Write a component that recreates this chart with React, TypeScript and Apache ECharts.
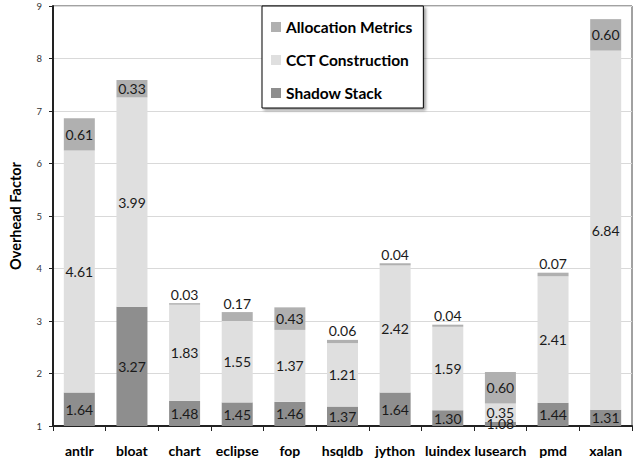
import React, { useEffect, useRef } from "react";
import * as echarts from "echarts";

const categories = ["antlr", "bloat", "chart", "eclipse", "fop", "hsqldb", "jython", "luindex", "lusearch", "pmd", "xalan"];
const shadowStack = [1.64, 3.27, 1.48, 1.45, 1.46, 1.37, 1.64, 1.30, 1.08, 1.44, 1.31];
const cctConstruction = [4.61, 3.99, 1.83, 1.55, 1.37, 1.21, 2.42, 1.59, 0.35, 2.41, 6.84];
const allocationMetrics = [0.61, 0.33, 0.03, 0.17, 0.43, 0.06, 0.04, 0.04, 0.60, 0.07, 0.60];
const yTicks = { min: 1, max: 9, interval: 1 };

const FONT = "Lato, 'Open Sans', sans-serif";

export default function App() {
  const ref = useRef<HTMLDivElement>(null);
  useEffect(() => {
    document.body.style.margin = "0";
    if (!ref.current) return;
    const chart = echarts.init(ref.current, null, { renderer: "svg" });
    const labelBase = {
      show: true,
      fontFamily: FONT,
      fontSize: 14,
      color: "#1a1a1a",
      formatter: (p: any) => Number(p.value).toFixed(2),
    };
    const mk = (vals: number[]) =>
      vals.map((v) => ({
        value: v,
        label: { position: v < 0.2 ? "top" : "inside", distance: 2 },
      }));
    chart.setOption({
      animation: false,
      textStyle: { fontFamily: FONT },
      grid: {
        left: 50,
        right: 2,
        top: 6,
        bottom: 35,
        show: true,
        borderColor: "#444",
        borderWidth: 1,
        backgroundColor: "transparent",
      },
      legend: {
        orient: "vertical",
        left: 262,
        top: 6,
        data: ["Allocation Metrics", "CCT Construction", "Shadow Stack"],
        icon: "rect",
        itemWidth: 10,
        itemHeight: 10,
        itemGap: 17,
        padding: [13, 11, 7, 9],
        backgroundColor: "#fff",
        borderColor: "#000",
        borderWidth: 1,
        shadowBlur: 3,
        shadowOffsetX: 2,
        shadowOffsetY: 2,
        shadowColor: "rgba(0,0,0,0.4)",
        textStyle: { fontFamily: FONT, fontSize: 15.5, fontWeight: "bold", color: "#000" },
      },
      xAxis: {
        type: "category",
        data: categories,
        axisLine: { show: true, lineStyle: { color: "#222", width: 2 } },
        axisTick: { show: true, alignWithLabel: false, length: 5, lineStyle: { color: "#222" } },
        axisLabel: { fontFamily: FONT, fontSize: 14, fontWeight: "bold", color: "#000", margin: 17, interval: 0 },
        splitLine: { show: false },
      },
      yAxis: {
        type: "value",
        min: yTicks.min,
        max: yTicks.max,
        interval: yTicks.interval,
        name: "Overhead Factor",
        nameLocation: "middle",
        nameGap: 30,
        nameTextStyle: { fontFamily: FONT, fontSize: 14.5, fontWeight: "bold", color: "#000" },
        axisLine: { show: true, lineStyle: { color: "#222", width: 2 } },
        axisTick: { show: true, length: 4, lineStyle: { color: "#222" } },
        axisLabel: { fontFamily: FONT, fontSize: 9.5, color: "#333", margin: 11 },
        splitLine: { show: true, lineStyle: { color: "#d9d9d9", width: 1 } },
      },
      series: [
        {
          name: "Shadow Stack",
          type: "bar",
          stack: "total",
          barWidth: 31,
          data: mk(shadowStack),
          itemStyle: { color: "#8e8e8e" },
          label: labelBase,
        },
        {
          name: "CCT Construction",
          type: "bar",
          stack: "total",
          barWidth: 31,
          data: mk(cctConstruction),
          itemStyle: { color: "#dfdfdf" },
          label: labelBase,
        },
        {
          name: "Allocation Metrics",
          type: "bar",
          stack: "total",
          barWidth: 31,
          data: mk(allocationMetrics),
          itemStyle: { color: "#b0b0b0" },
          label: labelBase,
        },
      ],
    });
    return () => chart.dispose();
  }, []);
  return <div ref={ref} style={{ width: 634, height: 461 }} />;
}
